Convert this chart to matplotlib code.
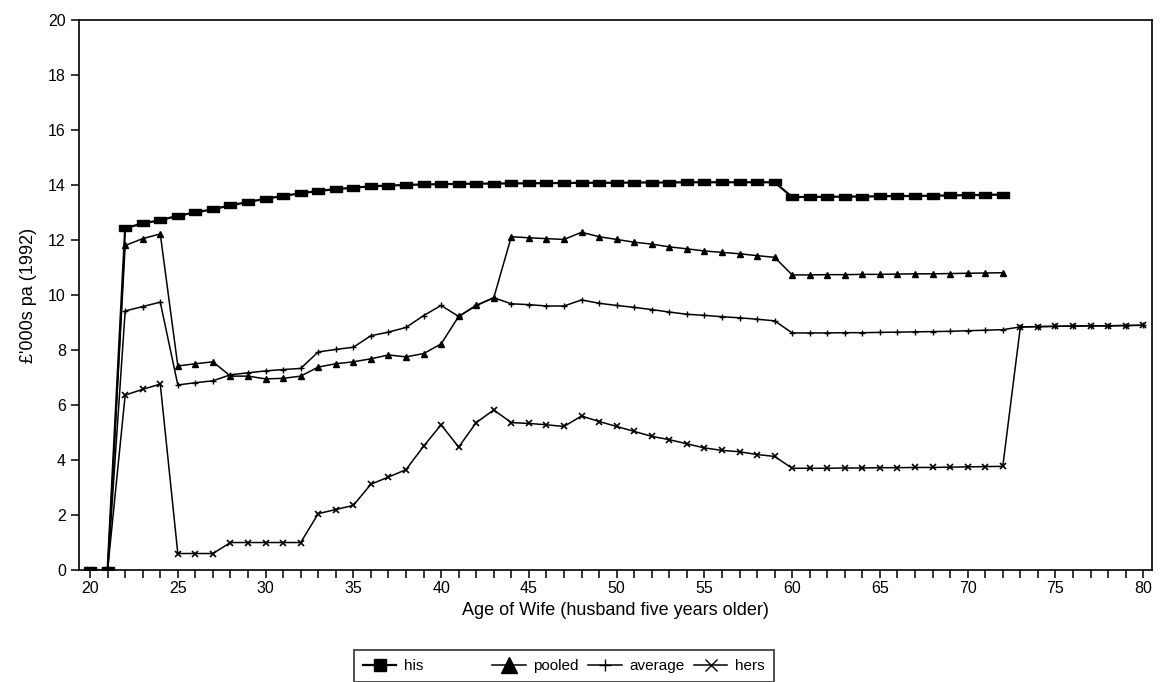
import numpy as np
import matplotlib.pyplot as plt
from matplotlib.ticker import MultipleLocator

plt.rcParams['font.family'] = ['Liberation Sans', 'DejaVu Sans']

ages_short = list(range(20, 73))
ages_long = list(range(20, 81))

his = [0, 0, 12.43, 12.6, 12.72, 12.88, 13.0, 13.12, 13.26, 13.38,
       13.5, 13.6, 13.7, 13.78, 13.85, 13.9, 13.95, 13.98, 14.0, 14.02,
       14.03, 14.04, 14.05, 14.05, 14.06, 14.06, 14.07, 14.07, 14.08, 14.08,
       14.08, 14.09, 14.09, 14.09, 14.1, 14.1, 14.1, 14.1, 14.1, 14.1,
       13.56, 13.57, 13.57, 13.58, 13.58, 13.59, 13.6, 13.6, 13.61, 13.62,
       13.63, 13.64, 13.65]

pooled = [0, 0, 11.8, 12.05, 12.22, 7.42, 7.5, 7.57, 7.05, 7.05,
          6.95, 6.97, 7.05, 7.38, 7.5, 7.57, 7.68, 7.82, 7.75, 7.87,
          8.22, 9.22, 9.62, 9.9, 12.12, 12.08, 12.05, 12.02, 12.28, 12.12,
          12.02, 11.92, 11.85, 11.75, 11.68, 11.6, 11.55, 11.5, 11.43, 11.37,
          10.73, 10.73, 10.74, 10.74, 10.75, 10.75, 10.76, 10.77, 10.77, 10.78,
          10.79, 10.8, 10.81]

average = [0, 0, 9.42, 9.58, 9.74, 6.73, 6.81, 6.88, 7.1, 7.17,
           7.24, 7.29, 7.33, 7.93, 8.02, 8.1, 8.52, 8.65, 8.82, 9.25,
           9.62, 9.22, 9.62, 9.9, 9.68, 9.65, 9.6, 9.6, 9.82, 9.7,
           9.62, 9.55, 9.47, 9.38, 9.3, 9.26, 9.21, 9.17, 9.12, 9.06,
           8.62, 8.62, 8.62, 8.63, 8.63, 8.64, 8.65, 8.66, 8.67, 8.68,
           8.7, 8.72, 8.74, 8.84, 8.85, 8.86, 8.87, 8.88, 8.88, 8.89,
           8.9]

hers = [0, 0, 6.36, 6.57, 6.76, 0.6, 0.6, 0.6, 1.0, 1.0,
        1.0, 1.0, 1.0, 2.05, 2.2, 2.35, 3.12, 3.38, 3.65, 4.5,
        5.28, 4.47, 5.36, 5.82, 5.36, 5.33, 5.28, 5.22, 5.6, 5.4,
        5.22, 5.04, 4.86, 4.74, 4.59, 4.44, 4.35, 4.3, 4.2, 4.13,
        3.7, 3.7, 3.7, 3.71, 3.71, 3.72, 3.72, 3.73, 3.73, 3.74,
        3.75, 3.76, 3.77, 8.84, 8.85, 8.86, 8.87, 8.88, 8.88, 8.89,
        8.9]

# wide filled bar used for "his"
rect = [(-1.6, -1), (1.6, -1), (1.6, 1), (-1.6, 1), (-1.6, -1)]

fig = plt.figure(figsize=(11.6, 6.82), dpi=100)
ax = fig.add_axes([0.0681, 0.1642, 0.9250, 0.8065])

ax.plot(ages_short, his, color='black', lw=1.6, marker=rect,
        markersize=8, label='his')
ax.plot(ages_short, pooled, color='black', lw=1.1, marker='^',
        markersize=4, label='pooled')
ax.plot(ages_long, average, color='black', lw=1.1, marker='+',
        markersize=5, markeredgewidth=1, label='average')
ax.plot(ages_long, hers, color='black', lw=1.1, marker='x',
        markersize=5, markeredgewidth=1.2, label='hers')

ax.set_xlim(19.37, 80.5)
ax.set_ylim(0, 20)
ax.xaxis.set_major_locator(MultipleLocator(5))
ax.xaxis.set_minor_locator(MultipleLocator(1))
ax.yaxis.set_major_locator(MultipleLocator(2))
ax.tick_params(axis='x', which='both', direction='out', length=6, width=1.1,
               labelsize=11.5, pad=2)
ax.tick_params(axis='y', direction='out', length=6, width=1.1, labelsize=11.5)
for s in ax.spines.values():
    s.set_linewidth(1.2)

ax.set_xlabel('Age of Wife (husband five years older)', fontsize=13, labelpad=4)
ax.set_ylabel("£'000s pa (1992)", fontsize=13, labelpad=8)

leg_his = plt.Line2D([], [], color='black', lw=1.6, marker='s', markersize=8)
leg_pooled = plt.Line2D([], [], color='black', lw=1.1, marker='^', markersize=11)
leg_avg = plt.Line2D([], [], color='black', lw=1.1, marker='+', markersize=8)
leg_hers = plt.Line2D([], [], color='black', lw=1.1, marker='x', markersize=9)
leg = fig.legend([leg_his, leg_pooled, leg_avg, leg_hers],
                 ['his' + ' ' * 14, 'pooled', 'average', 'hers'],
                 ncol=4, loc='upper center', bbox_to_anchor=(0.486, 0.058),
                 frameon=True, fancybox=False, edgecolor='black',
                 fontsize=11, handlelength=2.2, columnspacing=0.6,
                 handletextpad=0.5, borderpad=0.6)
leg.get_frame().set_linewidth(1.2)

fig.savefig('out.png', dpi=100)
